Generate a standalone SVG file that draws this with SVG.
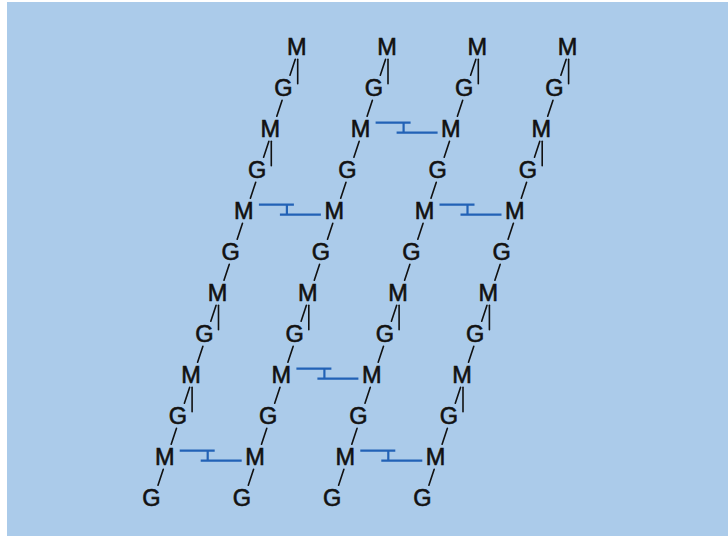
<svg xmlns="http://www.w3.org/2000/svg" xmlns:xlink="http://www.w3.org/1999/xlink" width="728" height="536" viewBox="0 0 728 536">
<style>
.t{font-family:"Liberation Sans",Arial,sans-serif;font-size:23.5px;fill:#111;stroke:#111;stroke-width:0.6;text-anchor:middle}
.k{stroke:#111;stroke-width:1.6;fill:none;stroke-linecap:round}
.x{stroke:#2262b6;stroke-width:2.2;fill:none}
</style>
<defs>
<path id="b" class="k" d="M-1.4,12.5 L-6.7,28.5"/>
<path id="s" class="k" d="M1,12.5 V37"/>
<path id="x" class="x" d="M15,-6 H50 M43,-6 V4 M36,4 H77"/>
</defs>
<rect width="728" height="536" fill="#ffffff"/>
<rect x="7" y="2" width="721" height="534" fill="#abcbea"/>
<g id="connectors">
<use href="#b" x="296.7" y="46.7"/><use href="#b" x="283.5" y="87.7"/><use href="#b" x="270.3" y="128.7"/><use href="#b" x="257.1" y="169.7"/><use href="#b" x="243.9" y="210.7"/><use href="#b" x="230.7" y="251.7"/><use href="#b" x="217.5" y="292.7"/><use href="#b" x="204.3" y="333.7"/><use href="#b" x="191.1" y="374.7"/><use href="#b" x="177.9" y="415.7"/><use href="#b" x="164.7" y="456.7"/>
<use href="#b" x="387.0" y="46.7"/><use href="#b" x="373.8" y="87.7"/><use href="#b" x="360.6" y="128.7"/><use href="#b" x="347.4" y="169.7"/><use href="#b" x="334.2" y="210.7"/><use href="#b" x="321.0" y="251.7"/><use href="#b" x="307.8" y="292.7"/><use href="#b" x="294.6" y="333.7"/><use href="#b" x="281.4" y="374.7"/><use href="#b" x="268.2" y="415.7"/><use href="#b" x="255.0" y="456.7"/>
<use href="#b" x="477.3" y="46.7"/><use href="#b" x="464.1" y="87.7"/><use href="#b" x="450.9" y="128.7"/><use href="#b" x="437.7" y="169.7"/><use href="#b" x="424.5" y="210.7"/><use href="#b" x="411.3" y="251.7"/><use href="#b" x="398.1" y="292.7"/><use href="#b" x="384.9" y="333.7"/><use href="#b" x="371.7" y="374.7"/><use href="#b" x="358.5" y="415.7"/><use href="#b" x="345.3" y="456.7"/>
<use href="#b" x="567.6" y="46.7"/><use href="#b" x="554.4" y="87.7"/><use href="#b" x="541.2" y="128.7"/><use href="#b" x="528.0" y="169.7"/><use href="#b" x="514.8" y="210.7"/><use href="#b" x="501.6" y="251.7"/><use href="#b" x="488.4" y="292.7"/><use href="#b" x="475.2" y="333.7"/><use href="#b" x="462.0" y="374.7"/><use href="#b" x="448.8" y="415.7"/><use href="#b" x="435.6" y="456.7"/>
<use href="#s" x="296.7" y="46.7"/><use href="#s" x="270.3" y="128.7"/><use href="#s" x="217.5" y="292.7"/><use href="#s" x="191.1" y="374.7"/>
<use href="#s" x="387.0" y="46.7"/><use href="#s" x="307.8" y="292.7"/>
<use href="#s" x="477.3" y="46.7"/><use href="#s" x="398.1" y="292.7"/>
<use href="#s" x="567.6" y="46.7"/><use href="#s" x="541.2" y="128.7"/><use href="#s" x="488.4" y="292.7"/><use href="#s" x="462.0" y="374.7"/>
<use href="#x" x="243.9" y="210.7"/><use href="#x" x="164.7" y="456.7"/>
<use href="#x" x="360.6" y="128.7"/><use href="#x" x="281.4" y="374.7"/>
<use href="#x" x="424.5" y="210.7"/><use href="#x" x="345.3" y="456.7"/>
</g>
<g id="chain1">
<g id="c1r0"><text class="t" x="296.7" y="55.1">M</text></g>
<g id="c1r1"><text class="t" x="283.5" y="96.1">G</text></g>
<g id="c1r2"><text class="t" x="270.3" y="137.1">M</text></g>
<g id="c1r3"><text class="t" x="257.1" y="178.1">G</text></g>
<g id="c1r4"><text class="t" x="243.9" y="219.1">M</text></g>
<g id="c1r5"><text class="t" x="230.7" y="260.1">G</text></g>
<g id="c1r6"><text class="t" x="217.5" y="301.1">M</text></g>
<g id="c1r7"><text class="t" x="204.3" y="342.1">G</text></g>
<g id="c1r8"><text class="t" x="191.1" y="383.1">M</text></g>
<g id="c1r9"><text class="t" x="177.9" y="424.1">G</text></g>
<g id="c1r10"><text class="t" x="164.7" y="465.1">M</text></g>
<g id="c1r11"><text class="t" x="151.5" y="506.1">G</text></g>
</g>
<g id="chain2">
<g id="c2r0"><text class="t" x="387.0" y="55.1">M</text></g>
<g id="c2r1"><text class="t" x="373.8" y="96.1">G</text></g>
<g id="c2r2"><text class="t" x="360.6" y="137.1">M</text></g>
<g id="c2r3"><text class="t" x="347.4" y="178.1">G</text></g>
<g id="c2r4"><text class="t" x="334.2" y="219.1">M</text></g>
<g id="c2r5"><text class="t" x="321.0" y="260.1">G</text></g>
<g id="c2r6"><text class="t" x="307.8" y="301.1">M</text></g>
<g id="c2r7"><text class="t" x="294.6" y="342.1">G</text></g>
<g id="c2r8"><text class="t" x="281.4" y="383.1">M</text></g>
<g id="c2r9"><text class="t" x="268.2" y="424.1">G</text></g>
<g id="c2r10"><text class="t" x="255.0" y="465.1">M</text></g>
<g id="c2r11"><text class="t" x="241.8" y="506.1">G</text></g>
</g>
<g id="chain3">
<g id="c3r0"><text class="t" x="477.3" y="55.1">M</text></g>
<g id="c3r1"><text class="t" x="464.1" y="96.1">G</text></g>
<g id="c3r2"><text class="t" x="450.9" y="137.1">M</text></g>
<g id="c3r3"><text class="t" x="437.7" y="178.1">G</text></g>
<g id="c3r4"><text class="t" x="424.5" y="219.1">M</text></g>
<g id="c3r5"><text class="t" x="411.3" y="260.1">G</text></g>
<g id="c3r6"><text class="t" x="398.1" y="301.1">M</text></g>
<g id="c3r7"><text class="t" x="384.9" y="342.1">G</text></g>
<g id="c3r8"><text class="t" x="371.7" y="383.1">M</text></g>
<g id="c3r9"><text class="t" x="358.5" y="424.1">G</text></g>
<g id="c3r10"><text class="t" x="345.3" y="465.1">M</text></g>
<g id="c3r11"><text class="t" x="332.1" y="506.1">G</text></g>
</g>
<g id="chain4">
<g id="c4r0"><text class="t" x="567.6" y="55.1">M</text></g>
<g id="c4r1"><text class="t" x="554.4" y="96.1">G</text></g>
<g id="c4r2"><text class="t" x="541.2" y="137.1">M</text></g>
<g id="c4r3"><text class="t" x="528.0" y="178.1">G</text></g>
<g id="c4r4"><text class="t" x="514.8" y="219.1">M</text></g>
<g id="c4r5"><text class="t" x="501.6" y="260.1">G</text></g>
<g id="c4r6"><text class="t" x="488.4" y="301.1">M</text></g>
<g id="c4r7"><text class="t" x="475.2" y="342.1">G</text></g>
<g id="c4r8"><text class="t" x="462.0" y="383.1">M</text></g>
<g id="c4r9"><text class="t" x="448.8" y="424.1">G</text></g>
<g id="c4r10"><text class="t" x="435.6" y="465.1">M</text></g>
<g id="c4r11"><text class="t" x="422.4" y="506.1">G</text></g>
</g>
</svg>
